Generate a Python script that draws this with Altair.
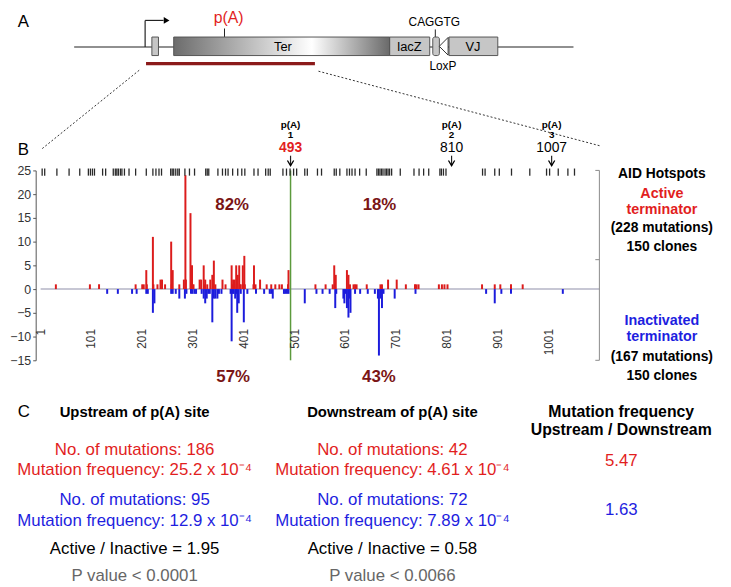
import altair as alt
import pandas as pd

# ---------------- data ----------------
# Active terminator (red, upward): position (bp) and number of mutations
red_pos = [31, 98, 116, 188, 201, 204, 209, 210, 222, 223, 231, 237, 240, 246, 258, 259, 261, 274,
           283, 286, 287, 296, 297, 299, 300, 302, 314, 317, 322, 323, 325, 329, 335, 339, 341, 342,
           345, 359, 365, 377, 378, 380, 383, 386, 387, 389, 392, 393, 395, 399, 401, 402, 403, 420,
           421, 424, 433, 446, 455, 463, 471, 476, 488, 489,
           542, 562, 576, 579, 582, 604, 607, 610, 617, 620, 623, 643, 670, 673, 685, 702, 720, 738,
           741, 745, 785, 791, 796, 802, 870, 895, 906, 927, 950]
red_cnt = [1, 1, 1, 1, 1, 1, 4, 1, 11, 1, 1, 2, 2, 1, 10, 1, 4, 1,
           2, 24, 2, 16, 2, 5, 1, 1, 2, 2, 5, 1, 2, 1, 2, 3, 1, 6,
           1, 2, 1, 5, 1, 2, 2, 5, 1, 3, 5, 1, 1, 5, 1, 7, 1, 1,
           5, 1, 2, 1, 1, 1, 1, 1, 1, 4,
           1, 1, 1, 5, 3, 4, 3, 1, 1, 1, 1, 1, 1, 1, 2, 2, 1, 1,
           1, 1, 1, 1, 1, 1, 1, 1, 1, 1, 1]
# Inactivated terminator (blue, downward)
blue_pos = [132, 153, 181, 190, 209, 212, 222, 225, 258, 261, 267, 274, 285, 288, 297, 300, 304, 307,
            318, 322, 325, 328, 331, 334, 339, 342, 345, 349, 352, 357, 375, 377, 379, 381, 384, 386,
            388, 391, 395, 401, 408, 425, 441, 452, 455, 458, 480, 483, 486, 489,
            521, 544, 556, 570, 581, 583, 597, 599, 601, 604, 607, 609, 611, 620, 630, 645, 659, 665,
            667, 670, 672, 673, 676, 698, 739, 878, 895, 908, 927, 1029]
blue_cnt = [1, 1, 1, 1, 1, 1, 5, 3, 1, 1, 1, 2, 2, 1, 1, 1, 1, 1,
            1, 2, 3, 2, 1, 1, 7, 2, 2, 2, 1, 1, 1, 11, 1, 1, 2, 1,
            5, 3, 1, 7, 1, 1, 1, 1, 1, 2, 1, 1, 1, 1,
            3, 1, 1, 1, 4, 1, 2, 3, 1, 4, 6, 2, 5, 1, 1, 1, 1, 2,
            14, 2, 1, 4, 1, 2, 1, 1, 3, 1, 1, 1]
hotspots = [4, 9, 33, 57, 78, 95, 99, 103, 107, 123, 129, 144, 148, 151, 154, 158, 161, 166, 175, 188,
            209, 222, 228, 234, 239, 257, 260, 263, 267, 271, 274, 285, 294, 304, 326, 329, 332, 350,
            359, 365, 370, 379, 389, 397, 403, 421, 429, 444, 449, 453, 478, 485, 492, 499, 505, 521,
            526, 546, 554, 579, 583, 590, 604, 609, 614, 620, 629, 642, 663, 666, 669, 672, 675, 679,
            682, 685, 688, 692, 709, 736, 746, 755, 765, 787, 790, 794, 799, 871, 876, 895, 904, 928,
            964, 997, 1003, 1020, 1039, 1052]
x_tick_labels = [1, 101, 201, 301, 401, 501, 601, 701, 801, 901, 1001]
y_ticks = [-15, -10, -5, 0, 5, 10, 15, 20, 25]
pa_sites = [493, 810, 1007]
pa_numbers = ["1", "2", "3"]

RED = "#DC1C1C"
BLUE = "#1C1CDC"
TXT_RED = "#E21E1E"
TXT_BLUE = "#1E1EE0"
DARK_RED = "#7A1515"
FONT = "Liberation Sans"

XS = alt.Scale(domain=[1, 1101], nice=False, zero=False)
YS = alt.Scale(domain=[-15, 25], nice=False, zero=False)
YAX = alt.Axis(values=y_ticks, title=None, grid=False, tickSize=3, labelPadding=2,
               domainColor="#555", tickColor="#555", labelColor="#333", labelFont=FONT,
               labelFontSize=12.5)


def X(f="x"):
    return alt.X(f"{f}:Q", scale=XS, axis=None)


def Y(f="y"):
    return alt.Y(f"{f}:Q", scale=YS, axis=YAX)


# ---------------- panel B bars ----------------
bars_df = pd.DataFrame(
    [{"pos": p, "value": c, "base": 0, "series": "Active terminator"} for p, c in zip(red_pos, red_cnt)]
    + [{"pos": p, "value": -c, "base": 0, "series": "Inactivated terminator"} for p, c in zip(blue_pos, blue_cnt)]
)
bars = alt.Chart(bars_df).mark_bar(size=2).encode(
    x=X("pos"),
    y=Y("value"),
    y2="base:Q",
    color=alt.Color("series:N", scale=alt.Scale(domain=["Active terminator", "Inactivated terminator"],
                                                range=[RED, BLUE]), legend=None),
)

# ---------------- line segments ----------------
seg_rows = [
    # x, x2, y, y2, color, width
    (67, 1050, 51, 51, "#222222", 1.1),          # construct backbone
    (206.7, 206.7, 51, 56.6, "#222222", 1.2),    # promoter stem
    (206.7, 243, 56.6, 56.6, "#222222", 1.2),    # promoter arm
    (363, 363, 53.1, 54.9, "#222222", 1.0),      # p(A) tick
    (778, 778, 53.1, 54.7, "#222222", 1.0),      # CAGGTG tick
    (208.5, 541, 47.5, 47.5, "#8B1A1A", 3.5),    # sequenced region
    (1, 1101, 0, 0, "#B4B4C6", 1.5),             # zero line
    (1101, 1101, -15, 25, "#8A8A8A", 1.0),       # right axis
    (1093, 1101, 25, 25, "#8A8A8A", 1.0),
    (1093, 1101, 6.2, 6.2, "#8A8A8A", 1.0),
    (1093, 1101, -15, -15, "#8A8A8A", 1.0),
] + [(s, s, 26.0, 28.1, "#222222", 1.2) for s in pa_sites]
seg_df = pd.DataFrame(seg_rows, columns=["x", "x2", "y", "y2", "color", "w"])
segs = alt.Chart(seg_df).mark_rule().encode(
    x=X(), x2="x2:Q", y=Y(), y2="y2:Q",
    color=alt.Color("color:N", scale=None), size=alt.Size("w:Q", scale=None))

green_df = pd.DataFrame({"x": [pa_sites[0]], "y": [-15], "y2": [25]})
green = alt.Chart(green_df).mark_rule(color="#5C9A3C", strokeWidth=1.5).encode(x=X(), y=Y(), y2="y2:Q")

dot_df = pd.DataFrame({"x": [195, 548], "x2": [3, 1105], "y": [46.1, 45.9], "y2": [29.5, 30.1]})
dots = alt.Chart(dot_df).mark_rule(color="#333333", strokeWidth=1, strokeDash=[2, 2]).encode(
    x=X(), x2="x2:Q", y=Y(), y2="y2:Q")

hot_df = pd.DataFrame({"x": hotspots, "y": 23.9, "y2": 25.4})
hot = alt.Chart(hot_df).mark_rule(color="#2A2A2A", strokeWidth=1.3).encode(x=X(), y=Y(), y2="y2:Q")

# ---------------- panel A boxes ----------------
box_df = pd.DataFrame({"x": [220, 688, 805], "x2": [233, 767, 901], "y": 49.2, "y2": 53.1})
boxes = alt.Chart(box_df).mark_rect(fill="#C6C6C6", stroke="#555555", strokeWidth=1).encode(
    x=X(), x2="x2:Q", y=Y(), y2="y2:Q")
lox_df = pd.DataFrame({"x": [773], "x2": [786], "y": [49.2], "y2": [53.1]})
loxbox = alt.Chart(lox_df).mark_rect(fill="#C6C6C6", stroke="#555555", strokeWidth=1, cornerRadius=2).encode(
    x=X(), x2="x2:Q", y=Y(), y2="y2:Q")
ter_df = pd.DataFrame({"x": [263], "x2": [688], "y": [49.2], "y2": [53.1]})
ter = alt.Chart(ter_df).mark_rect(
    color=alt.LinearGradient(gradient="linear", x1=0, x2=1, y1=0, y2=0,
                             stops=[alt.GradientStop(color="#6C6C6C", offset=0),
                                    alt.GradientStop(color="#FFFFFF", offset=0.64),
                                    alt.GradientStop(color="#6A6A6A", offset=1)]),
    stroke="#555555", strokeWidth=1).encode(x=X(), x2="x2:Q", y=Y(), y2="y2:Q")

tri_df = pd.DataFrame({"x": [794.5], "y": [51.15]})
loxtri = alt.Chart(tri_df).mark_point(shape="M 0.5 -1 L -0.5 0 L 0.5 1 Z", filled=True, fill="white",
                                      stroke="#333333", strokeWidth=1, size=320, opacity=1).encode(x=X(), y=Y())
head_df = pd.DataFrame({"x": [249], "y": [56.6]})
head = alt.Chart(head_df).mark_point(shape="triangle-right", filled=True, color="black", size=45,
                                     opacity=1).encode(x=X(), y=Y())
chev_df = pd.DataFrame({"x": pa_sites, "y": 26.0})
chev = alt.Chart(chev_df).mark_point(shape="M -0.6 -1 L 0 0 L 0.6 -1", filled=False, stroke="black",
                                     strokeWidth=1.3, size=110, opacity=1).encode(x=X(), y=Y())


# ---------------- texts ----------------
def texts(rows, **kw):
    df = pd.DataFrame(rows, columns=["text", "x", "y", "size", "color"])
    return alt.Chart(df).mark_text(baseline="middle", **kw).encode(
        x=X(), y=Y(), text="text:N",
        color=alt.Color("color:N", scale=None), size=alt.Size("size:Q", scale=None))


reg_rows = [
    ("Ter", 478, 51, 13, "black"),
    ("lacZ", 727, 51, 13, "black"),
    ("VJ", 852, 51, 13, "black"),
    ("CAGGTG", 776, 56.2, 12, "black"),
    ("LoxP", 793, 47.0, 12, "black"),
    ("p(A)", 371, 57.2, 16, TXT_RED),
    ("810", pa_sites[1], 29.7, 14, "black"),
    ("1007", pa_sites[2], 29.7, 14, "black"),
]
panel_rows = [("A", -44, 56.3, 17, "black"), ("B", -44, 29.2, 17, "black"), ("C", -44, -25.8, 17, "black")]
bold_rows = (
    [("p(A)", s, 34.6, 10, "black") for s in pa_sites]
    + [(n, s, 32.4, 10, "black") for n, s in zip(pa_numbers, pa_sites)]
    + [("493", pa_sites[0], 29.7, 14, TXT_RED)]
    + [("82%", 378, 17.6, 17, DARK_RED), ("18%", 668, 17.6, 17, DARK_RED),
       ("57%", 380, -18.6, 17, DARK_RED), ("43%", 667, -18.6, 17, DARK_RED)]
    + [("AID Hotspots", 1224, 24.2, 14, "black"),
       ("Active", 1224, 20.0, 14.5, TXT_RED), ("terminator", 1224, 16.6, 14.5, TXT_RED),
       ("(228 mutations)", 1224, 12.9, 14, "black"), ("150 clones", 1224, 8.8, 14, "black"),
       ("Inactivated", 1224, -6.8, 14.5, TXT_BLUE), ("terminator", 1224, -10.2, 14.5, TXT_BLUE),
       ("(167 mutations)", 1224, -14.3, 14, "black"), ("150 clones", 1224, -18.3, 14, "black")]
    + [("Upstream of p(A) site", 186, -25.8, 15, "black"),
       ("Downstream of p(A) site", 693.5, -25.8, 15, "black"),
       ("Mutation frequency", 1144, -25.8, 16, "black"),
       ("Upstream / Downstream", 1144, -29.7, 16, "black")]
)
row_rows = [
    ("No. of mutations: 186", 186, -34.0, 17, TXT_RED),
    ("Mutation frequency: 25.2 x 10⁻⁴", 186, -38.1, 17, TXT_RED),
    ("No. of mutations: 42", 693.5, -34.0, 17, TXT_RED),
    ("Mutation frequency: 4.61 x 10⁻⁴", 693.5, -38.1, 17, TXT_RED),
    ("5.47", 1144, -36.3, 17, TXT_RED),
    ("No. of mutations: 95", 186, -44.5, 17, TXT_BLUE),
    ("Mutation frequency: 12.9 x 10⁻⁴", 186, -48.8, 17, TXT_BLUE),
    ("No. of mutations: 72", 693.5, -44.5, 17, TXT_BLUE),
    ("Mutation frequency: 7.89 x 10⁻⁴", 693.5, -48.8, 17, TXT_BLUE),
    ("1.63", 1144, -46.5, 17, TXT_BLUE),
    ("Active / Inactive = 1.95", 186, -54.7, 17, "black"),
    ("Active / Inactive = 0.58", 693.5, -54.7, 17, "black"),
    ("P value < 0.0001", 186, -60.5, 17, "#666666"),
    ("P value < 0.0066", 693.5, -60.5, 17, "#666666"),
]
xlab_rows = [(str(v), v, -8.4, 12, "#333333") for v in x_tick_labels]

t_reg = texts(reg_rows, font=FONT, align="center")
t_panel = texts(panel_rows, font=FONT, align="left")
t_bold = texts(bold_rows, font=FONT, fontWeight="bold", align="center")
t_rows = texts(row_rows, font=FONT, align="center")
t_xlab = texts(xlab_rows, font=FONT, align="right", angle=270)

chart = alt.layer(
    segs, dots, boxes, ter, loxbox, loxtri, head, bars, green, hot, chev,
    t_reg, t_panel, t_bold, t_rows, t_xlab,
).properties(
    width=575, height=192,
    padding={"left": 28, "right": 120, "top": 161, "bottom": 226},
    autosize=alt.AutoSizeParams(type="none"),
    background="white",
).configure_view(stroke=None)

chart.save("out.html", embed_options={"renderer": "svg", "actions": False})
